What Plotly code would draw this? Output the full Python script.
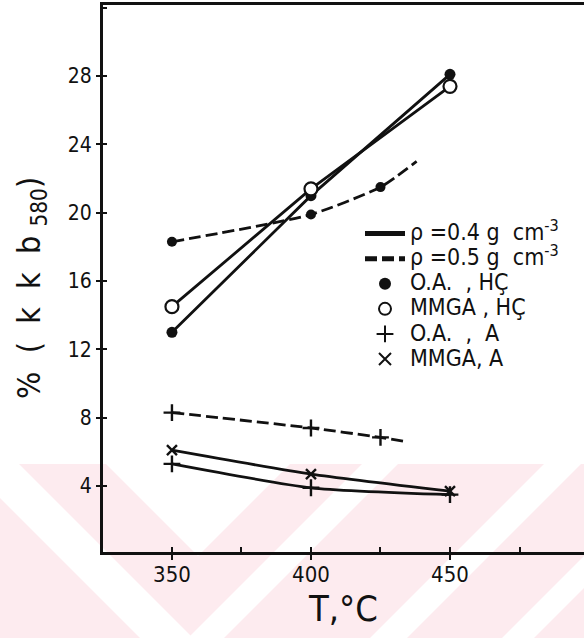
import plotly.graph_objects as go

# ---------------- data ----------------
T = [350, 400, 450]
oa_hc_04 = [13.0, 21.0, 28.1]
mmga_hc_04 = [14.5, 21.4, 27.4]
mmga_a_04 = [6.1, 4.7, 3.7]
oa_a_04 = [5.3, 3.9, 3.5]

T_05 = [350, 400, 425]
oa_hc_05 = [18.3, 19.9, 21.5]
oa_a_05 = [8.3, 7.4, 6.85]
# hand-drawn curves continue past the last measured point
oa_hc_05_tail = (438, 23.0)
oa_a_05_tail = (434, 6.6)

x_ticks = [350, 400, 450]
y_ticks = [4, 8, 12, 16, 20, 24, 28]

x_title = "T,°C"
y_title = "%  (  k  k  b <sub>580</sub>)"
legend_labels = ["ρ =0.4 g  cm<sup>-3</sup>", "ρ =0.5 g  cm<sup>-3</sup>",
                 "O.A.  , HÇ", "MMGA , HÇ", "O.A.  ,  A", "MMGA, A"]

# ---------------- styling ----------------
FONT = "DejaVu Sans Condensed, Liberation Sans Narrow, DejaVu Sans, sans-serif"
BLACK = "#111111"
LW = 2.8
DASH = "12px,5px"

W, H = 584, 638
ML, MR, MT, MB = 103, 0, 5, 86
PW, PH = W - ML - MR, H - MT - MB

fig = go.Figure()

def big(t):
    return f"<span style='font-size:23px'>{t}</span>"

def line(x, y, dash=None, shape="linear", name=None, rank=1000):
    fig.add_trace(go.Scatter(x=x, y=y, mode="lines", showlegend=name is not None,
                             name=big(name) if name else None, legendrank=rank,
                             line=dict(color=BLACK, width=LW, dash=dash, shape=shape, smoothing=0.6),
                             hoverinfo="skip"))

def marks(x, y, symbol, size, fill=BLACK, lw=0, name=None, rank=1000):
    fig.add_trace(go.Scatter(x=x, y=y, mode="markers", showlegend=name is not None,
                             name=big(name) if name else None, legendrank=rank,
                             marker=dict(symbol=symbol, size=size, color=fill,
                                         line=dict(color=BLACK, width=lw))))

# rho = 0.4 solid lines
line(T, oa_hc_04, name=legend_labels[0], rank=1)
line(T, mmga_hc_04)
line(T, mmga_a_04, shape="spline")
line(T, oa_a_04, shape="spline")
# rho = 0.5 dashed curves
line(T_05 + [oa_hc_05_tail[0]], oa_hc_05 + [oa_hc_05_tail[1]], dash=DASH, shape="spline",
     name=legend_labels[1], rank=2)
line(T_05 + [oa_a_05_tail[0]], oa_a_05 + [oa_a_05_tail[1]], dash=DASH, shape="spline")

# markers
marks(T, oa_hc_04, "circle", 11, name=legend_labels[2], rank=3)
marks(T, mmga_hc_04, "circle", 13, fill="white", lw=2.2, name=legend_labels[3], rank=4)
marks(T_05, oa_hc_05, "circle", 10)
marks(T, oa_a_04, "cross-thin", 12, lw=2.4, name=legend_labels[4], rank=5)
marks(T, mmga_a_04, "x-thin", 10, lw=2.4, name=legend_labels[5], rank=6)
marks(T_05, oa_a_05, "cross-thin", 12, lw=2.4)

XR = [325.2, 498.2]
YR = [0.14, 32.16]

fig.update_layout(
    width=W, height=H,
    margin=dict(l=ML, r=MR, t=MT, b=MB),
    paper_bgcolor="white", plot_bgcolor="rgba(0,0,0,0)",
    font=dict(family=FONT, color=BLACK),
    showlegend=True,
    legend=dict(x=(360 - ML) / PW, y=1 - (216 - MT) / PH, xanchor="left", yanchor="top",
                bgcolor="rgba(0,0,0,0)", font=dict(size=17, family=FONT, color=BLACK),
                itemwidth=40, tracegroupgap=0, itemsizing="constant", traceorder="normal"),
    xaxis=dict(range=XR, tickvals=x_ticks, ticks="outside", ticklen=5, tickwidth=2,
               tickcolor=BLACK, showline=True, linewidth=LW, linecolor=BLACK, mirror=True,
               showgrid=False, zeroline=False, tickfont=dict(size=22, family=FONT),
               ticklabelstandoff=-4,
               minor=dict(ticks="inside", dtick=25, tick0=350, ticklen=5, tickwidth=2, tickcolor=BLACK),
               title=dict(text=x_title, font=dict(size=36, family=FONT), standoff=10)),
    yaxis=dict(range=YR, tickvals=y_ticks, ticks="outside", ticklen=4, tickwidth=2,
               tickcolor=BLACK, showline=True, linewidth=LW, linecolor=BLACK,
               showgrid=False, zeroline=False, tickfont=dict(size=21, family=FONT),
               ticklabelstandoff=0,
               minor=dict(ticks="inside", dtick=4, tick0=0, ticklen=4, tickwidth=2, tickcolor=BLACK)),
)

# y-axis title placed as a rotated annotation (centred slightly below the plot middle, as in the scan)
fig.add_annotation(text=y_title, xref="paper", yref="paper",
                   x=(31 - ML) / PW, y=1 - (288 - MT) / PH, xanchor="center", yanchor="middle",
                   textangle=-90, showarrow=False, font=dict(size=32, family=FONT, color=BLACK))

# ---------------- scan watermark (decorative background) ----------------
PINK = "#fdebef"
def px(x, y):
    return (x - ML) / PW, 1 - (y - MT) / PH

def poly(points, color):
    pts = [px(x, y) for x, y in points]
    path = "M " + " L ".join(f"{a:.5f},{b:.5f}" for a, b in pts) + " Z"
    fig.add_shape(type="path", path=path, xref="paper", yref="paper",
                  fillcolor=color, line=dict(width=0), layer="below")

TOP, BOT = 464, 640
poly([(0, TOP), (W, TOP), (W, BOT), (0, BOT)], PINK)

def band_dr(c1, c2):  # down-right band: c1 <= y - x <= c2
    poly([(TOP - c2, TOP), (TOP - c1, TOP), (BOT - c1, BOT), (BOT - c2, BOT)], "white")

def band_ur(c1, c2):  # up-right band: c1 <= y + x <= c2
    poly([(c1 - TOP, TOP), (c2 - TOP, TOP), (c2 - BOT, BOT), (c1 - BOT, BOT)], "white")

band_dr(445, 498)
poly([(106, TOP), (290, TOP), (198, 556)], "white")
band_ur(826, 862)
band_ur(1008, 1045)
band_ur(1140, 1172)

fig.write_html("out.html")
